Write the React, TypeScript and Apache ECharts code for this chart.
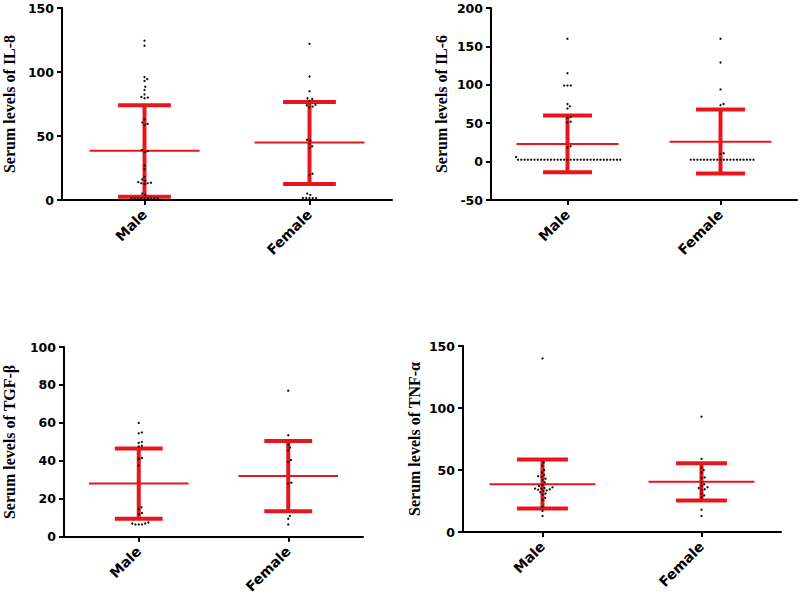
import React, { useEffect, useRef } from "react";
import * as echarts from "echarts";

const categories = ["Male", "Female"];

const il8Male = [124.5, 120.5, 96, 94.5, 93, 88.5, 86, 82.5, 80.5, 80, 79.5, 63, 60.5, 59.5, 58.5, 39, 38, 37.5, 27, 24, 18, 16, 15, 14, 13.5, 13, 13, 12.5, 5, 4, 1.5, 1.5, 1.5, 1.5, 1.5, 1.5, 1.5, 1.5, 1.5];
const il8Female = [122, 96.5, 85, 79.5, 79, 77.5, 74.5, 74, 73, 72.5, 47, 46.5, 44, 42, 40.5, 20.5, 19.5, 5, 4, 1.5, 1.5, 1.5, 1.5, 1.5];
const il8Mean = [38.5, 45];
const il8Low = [2.5, 12.5];
const il8High = [74, 76.5];

const il6Male = [160, 115, 99, 99, 99, 75, 72, 69, 58, 57, 52, 51, 20, 18.5, 6,
  2.5, 2.5, 2.5, 2.5, 2.5, 2.5, 2.5, 2.5, 2.5, 2.5, 2.5, 2.5, 2.5, 2.5, 2.5, 2.5,
  2.5, 2.5, 2.5, 2.5, 2.5, 2.5, 2.5, 2.5, 2.5, 2.5, 2.5, 2.5, 2.5, 2.5, 2.5, 2.5];
const il6Female = [160, 129, 94, 75, 73.5, 11, 10,
  2.5, 2.5, 2.5, 2.5, 2.5, 2.5, 2.5, 2.5, 2.5, 2.5, 2.5, 2.5, 2.5, 2.5, 2.5, 2.5, 2.5, 2.5, 2.5, 2.5];
const il6Mean = [23, 26];
const il6Low = [-14, -15.5];
const il6High = [60, 68];

const tgfMale = [60, 55, 54.5, 50, 49.5, 48, 47.5, 41.5, 41, 37.5, 15.5, 14.5, 12.5, 12, 7.5, 7, 6.5, 6.5, 6.5, 7];
const tgfFemale = [77, 53.5, 48.5, 47, 45.5, 40.5, 39.5, 28.5, 28, 11, 9.5, 6.5];
const tgfMean = [28, 32];
const tgfLow = [9.5, 13.5];
const tgfHigh = [46.5, 50.5];

const tnfMale = [140, 56, 53.5, 50, 48, 46, 45, 44.5, 43, 42, 40, 38, 37, 36, 35.5, 35, 35, 34.5, 34, 33.5, 33, 32, 31, 30, 27.5, 26, 20.5, 17, 13];
const tnfFemale = [93, 59, 52, 50, 48, 44, 43.5, 40, 38.5, 37, 36, 35.5, 34.5, 34, 31, 29.5, 28, 18, 13];
const tnfMean = [38.5, 40.5];
const tnfLow = [19, 25.5];
const tnfHigh = [58.5, 55.5];

const yNames = ["Serum levels of IL-8", "Serum levels of IL-6", "Serum levels of TGF-β", "Serum levels of TNF-α"];

const panels = [
  { name: yNames[0], min: 0, max: 150, interval: 50, dots: [il8Male, il8Female], mean: il8Mean, low: il8Low, high: il8High,
    grid: { left: 61, top: 8, width: 331, height: 192 }, nameGap: 45 },
  { name: yNames[1], min: -50, max: 200, interval: 50, dots: [il6Male, il6Female], mean: il6Mean, low: il6Low, high: il6High,
    grid: { left: 491, top: 8, width: 306, height: 192 }, nameGap: 42 },
  { name: yNames[2], min: 0, max: 100, interval: 20, dots: [tgfMale, tgfFemale], mean: tgfMean, low: tgfLow, high: tgfHigh,
    grid: { left: 64, top: 347, width: 299, height: 192 }, nameGap: 47 },
  { name: yNames[3], min: 0, max: 150, interval: 50, dots: [tnfMale, tnfFemale], mean: tnfMean, low: tnfLow, high: tnfHigh,
    grid: { left: 463, top: 346, width: 318, height: 186 }, nameGap: 41 },
];

const RED = "#e8161c";
const BLACK = "#000";

function buildOption() {
  const grids: any[] = [];
  const xAxes: any[] = [];
  const yAxes: any[] = [];
  const series: any[] = [];
  panels.forEach((p, i) => {
    grids.push({ ...p.grid, containLabel: false });
    xAxes.push({
      gridIndex: i,
      type: "category",
      data: categories,
      axisLine: { show: true, onZero: false, lineStyle: { color: BLACK, width: 2 } },
      axisTick: { show: true, alignWithLabel: true, length: 5, lineStyle: { color: BLACK, width: 2 } },
      axisLabel: { rotate: 45, margin: 12, color: BLACK, fontWeight: "bold", fontSize: 14, fontFamily: "DejaVu Sans" },
      splitLine: { show: false },
    });
    yAxes.push({
      gridIndex: i,
      type: "value",
      min: p.min,
      max: p.max,
      interval: p.interval,
      name: p.name,
      nameLocation: "middle",
      nameGap: p.nameGap,
      nameTextStyle: { fontFamily: "Liberation Serif", fontSize: 16, fontWeight: "bold", color: BLACK },
      axisLine: { show: true, lineStyle: { color: BLACK, width: 2 } },
      axisTick: { show: true, length: 5, lineStyle: { color: BLACK, width: 2 } },
      axisLabel: { margin: 8, color: BLACK, fontWeight: "bold", fontSize: 12.5, fontFamily: "DejaVu Sans" },
      splitLine: { show: false },
    });
    series.push({
      type: "custom",
      xAxisIndex: i,
      yAxisIndex: i,
      z: 2,
      encode: { x: 0, y: [1, 2, 3] },
      data: categories.map((_, ci) => [ci, p.mean[ci], p.low[ci], p.high[ci]]),
      renderItem: (params: any, api: any) => {
        const ci = api.value(0);
        const m = api.coord([ci, api.value(1)]);
        const lo = api.coord([ci, api.value(2)]);
        const hi = api.coord([ci, api.value(3)]);
        const bw = api.size([1, 0])[0];
        const mh = bw / 3;
        const ch = bw * 0.16;
        return {
          type: "group",
          children: [
            { type: "line", shape: { x1: m[0] - mh, y1: m[1], x2: m[0] + mh, y2: m[1] }, style: { stroke: RED, lineWidth: 2 } },
            { type: "line", shape: { x1: lo[0], y1: lo[1], x2: hi[0], y2: hi[1] }, style: { stroke: RED, lineWidth: 4 } },
            { type: "line", shape: { x1: lo[0] - ch, y1: lo[1], x2: lo[0] + ch, y2: lo[1] }, style: { stroke: RED, lineWidth: 4 } },
            { type: "line", shape: { x1: hi[0] - ch, y1: hi[1], x2: hi[0] + ch, y2: hi[1] }, style: { stroke: RED, lineWidth: 4 } },
          ],
        };
      },
    });
    series.push({
      type: "custom",
      xAxisIndex: i,
      yAxisIndex: i,
      z: 5,
      encode: { x: 0, y: 1 },
      data: categories.map((_, ci) => [ci, p.mean[ci]]),
      renderItem: (params: any, api: any) => {
        const ci = api.value(0);
        const vals: number[] = p.dots[ci];
        const cx = api.coord([ci, 0])[0];
        const ys = vals.map((v) => api.coord([ci, v])[1]).sort((a: number, b: number) => b - a);
        const placed: { x: number; y: number }[] = [];
        const D = 3.3;
        for (const y of ys) {
          const near = placed.filter((q) => Math.abs(q.y - y) < D);
          const cands = [0];
          for (const q of near) {
            const dx = Math.sqrt(D * D - (q.y - y) * (q.y - y));
            cands.push(q.x + dx, q.x - dx);
          }
          cands.sort((a, b) => Math.abs(a) - Math.abs(b));
          let chosen = 0;
          for (const c of cands) {
            if (near.every((q) => (q.x - c) * (q.x - c) + (q.y - y) * (q.y - y) >= D * D - 0.01)) {
              chosen = c;
              break;
            }
          }
          placed.push({ x: chosen, y });
        }
        return {
          type: "group",
          children: placed.map((q) => ({
            type: "circle",
            shape: { cx: cx + q.x, cy: q.y, r: 1.15 },
            style: { fill: "#111" },
          })),
        };
      },
    });
  });
  return {
    animation: false,
    backgroundColor: "#fff",
    grid: grids,
    xAxis: xAxes,
    yAxis: yAxes,
    series,
  };
}

export default function App() {
  const ref = useRef<HTMLDivElement>(null);
  useEffect(() => {
    if (!ref.current) return;
    const chart = echarts.init(ref.current, undefined, { renderer: "svg" });
    chart.setOption(buildOption() as any);
    return () => chart.dispose();
  }, []);
  return <div ref={ref} style={{ position: "absolute", left: 0, top: 0, width: 800, height: 596 }} />;
}
